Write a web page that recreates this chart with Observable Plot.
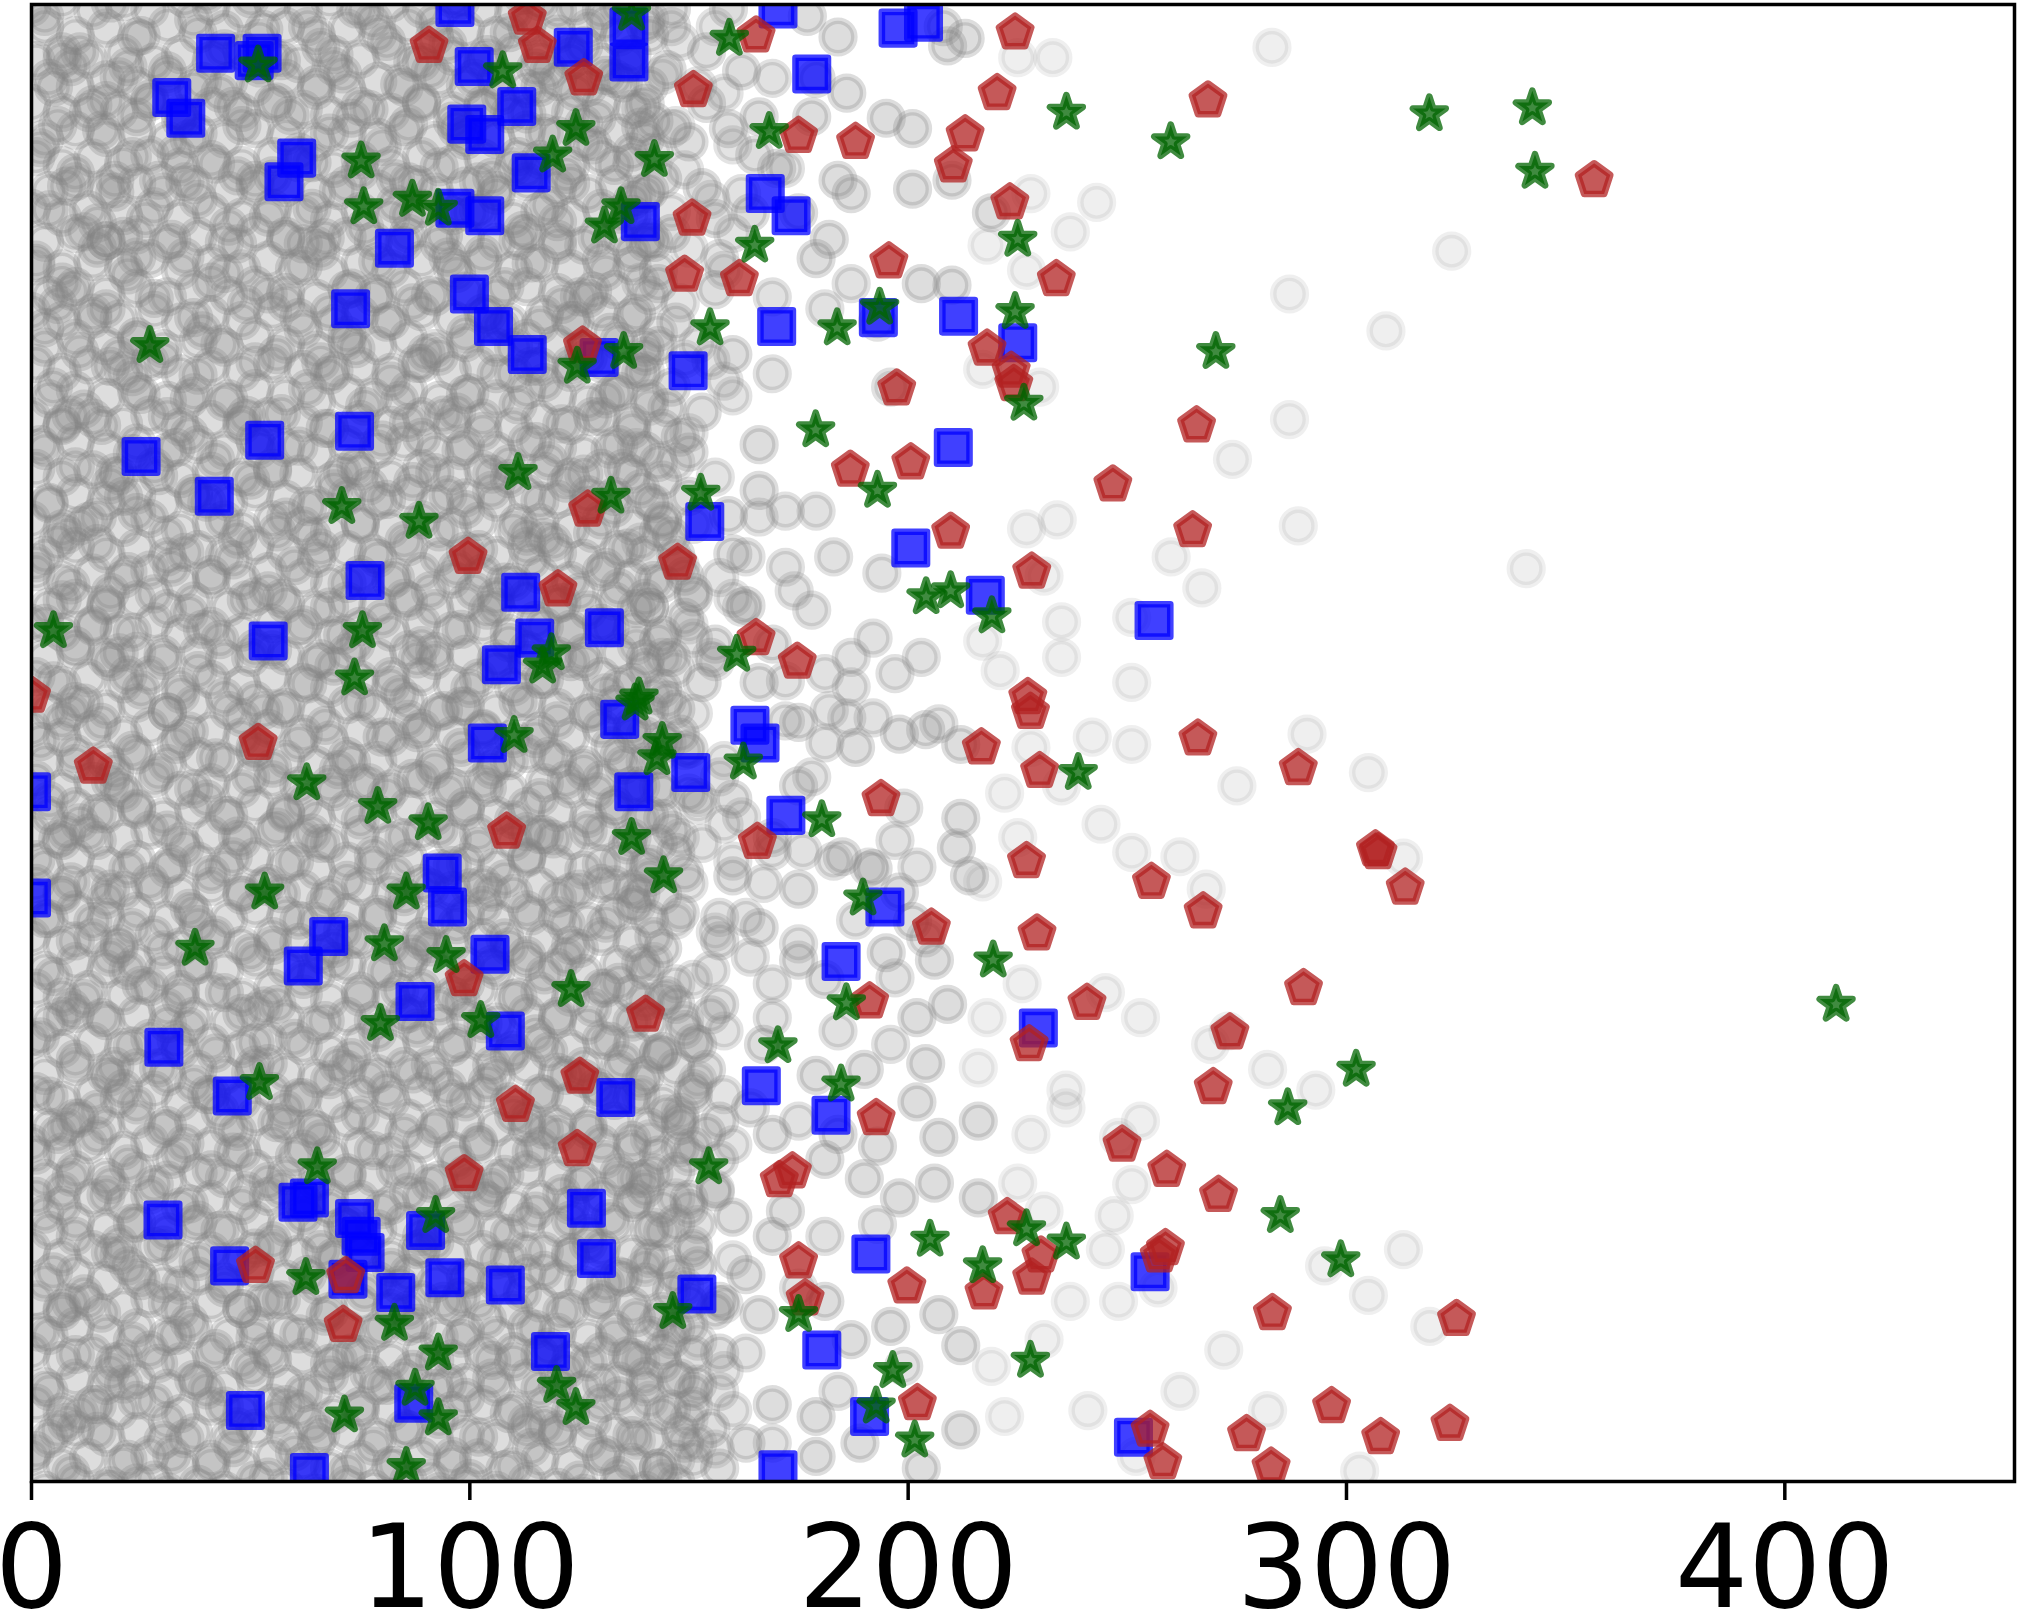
<!DOCTYPE html>
<html><head><meta charset="utf-8">
<script src="https://cdn.jsdelivr.net/npm/d3@7"></script>
<script src="https://cdn.jsdelivr.net/npm/@observablehq/plot@0.6"></script>
<style>body{margin:0;background:#fff}</style>
</head><body><div id="chart"></div>
<script>
const xTicks = [0, 100, 200, 300, 400];
const xDomain = [0, 452.4];
const yDomain = [0, 1000];

const blueSquares = [[96.6,998],[42,967],[52.6,967],[50.8,962],[32,937],[35.2,923],[60.5,896],[57.6,880],[82.8,835],[72.8,794],[101,958],[99.3,919],[103.4,912],[96.6,862],[103.4,857],[99.9,804],[105.4,782],[110.7,931],[123.6,971],[136.3,985],[136.3,961],[114,886],[113.1,763],[129.5,761],[138.9,853],[149.8,752],[153.6,650],[170.3,997],[178,953],[197.7,984],[203.5,988],[167.4,872],[173.3,857],[170,782],[193.2,788],[211.5,789],[225,771],[210.3,700],[200.6,632],[217.6,600],[256.1,583],[25,694],[41.7,667],[53.2,705],[73.7,711],[76.1,610],[54,569],[111.6,602],[114.8,571],[107.2,553],[130.7,578],[104,500],[134.2,516],[150.4,480],[137.4,467],[163.9,512],[166.2,500],[172.1,451],[0,467],[93.7,412],[94.9,389],[0,395],[67.8,369],[62,349],[104.6,357],[87.5,325],[108.1,305],[30.2,294],[45.8,261],[133.3,260],[166.5,268],[182.4,248],[184.7,352],[194.7,389],[229.7,307],[30,177],[60.8,189],[63.4,192],[73.7,178],[75.2,166],[76.1,155],[72.2,137],[83.1,128],[89.9,170],[94.3,138],[108.1,133],[126.6,185],[128.9,151],[45.2,146],[48.8,48],[118.4,88],[87.2,53],[151.8,127],[180.3,89],[191.5,154],[191.2,44],[170.3,8],[63.4,6],[255.2,142],[251.4,30]];

const redPentagons = [[113.1,991],[115.4,972],[90.7,972],[126,950],[151,942],[165.3,979],[175,911],[188,907],[213,912],[210.3,891],[224.4,981],[220.3,940],[268.4,935],[356.5,881],[223.2,866],[150.7,855],[195.6,826],[149,817],[161.5,814],[233.8,814],[218,767],[223.5,752],[224.1,743],[125.7,769],[197.4,740],[265.8,715],[186.8,685],[200.6,690],[246.7,675],[126.9,658],[99.6,626],[120.1,604],[147.4,622],[209.7,643],[264.9,644],[228.2,616],[165.3,571],[174.7,555],[0,532],[51.7,500],[14.1,484],[227.3,531],[227.9,521],[216.7,497],[266.1,503],[230,481],[289,483],[193.8,462],[108.4,440],[165.6,433],[227,420],[306.6,428],[307.2,426],[255.5,406],[313.4,402],[267.3,386],[205.3,375],[229.4,371],[98.7,340],[140.1,316],[191.2,325],[240.8,324],[290.2,334],[273.4,304],[227.6,296],[125.1,274],[110.4,255],[192.7,246],[269.6,267],[248.8,228],[259,211],[98.7,208],[124.5,225],[170.6,204],[173.6,210],[270.8,194],[222.6,179],[230.3,153],[258.7,158],[257.3,153],[175,149],[228.2,138],[199.7,132],[217.3,128],[176.5,124],[51.1,146],[71.7,139],[71.1,106],[283.1,114],[325.1,110],[202.1,53],[296.6,51],[307.8,30],[323.6,39],[255.2,35],[277.2,32],[258.1,13],[282.8,10]];

const greenStars = [[136.9,994],[159.2,977],[51.7,959],[107.5,955],[124.2,916],[118.9,898],[142.1,895],[168.3,914],[236.1,927],[259.9,907],[318.9,926],[342.4,930],[343,887],[75.2,894],[75.8,863],[86.9,868],[92.8,862],[130.7,850],[134.5,863],[165,837],[225,841],[193.5,795],[224.4,792],[183.8,781],[154.8,781],[135.1,765],[124.5,755],[270.2,765],[226.4,730],[27,769],[178.9,712],[193,671],[152.7,669],[132.2,667],[111,683],[70.8,660],[88.4,650],[204.1,599],[209.7,603],[219.1,586],[5,576],[75.5,576],[73.7,544],[118.6,561],[116.6,552],[160.9,560],[138.6,531],[137.7,527],[110.1,505],[143.9,501],[142.7,490],[162.4,487],[238.8,480],[62.8,473],[79,457],[90.5,446],[180.3,448],[136.9,436],[144.2,410],[53.2,399],[85.5,399],[189.7,395],[37.3,361],[80.5,364],[94.6,356],[219.4,353],[123.1,333],[185.9,324],[79.6,310],[102.5,312],[411.7,323],[52,270],[170.3,295],[184.7,269],[302.2,279],[286.6,253],[154.5,213],[65.2,213],[92.2,180],[205,164],[227,171],[236.1,162],[284.9,180],[217,146],[62.6,138],[298.7,150],[82.8,107],[175,113],[146.3,115],[92.8,87],[196.5,75],[227.9,82],[119.8,65],[124.2,50],[87.5,63],[92.8,43],[71.4,45],[192.7,51],[201.5,28],[85.5,10]];

// dense cloud, scattered part
const grayCloudText = `
3,992 11,968 18,1001 25,979 31,955 37,990 44,970 50,1004 57,962 63,985 69,958 74,997 81,975 87,961 92,988 98,1003 104,966 109,981 115,957 120,996 126,972 131,988 136,960 141,979 146,997 7,963 22,958 40,1007 53,983 66,971 78,989 95,973 112,1006 123,962 134,999
5,944 13,927 20,951 27,936 34,922 39,948 46,931 52,957 59,925 65,942 71,953 77,929 84,946 89,934 96,921 101,950 107,938 113,926 118,955 124,941 129,923 135,947 140,933 145,956 9,958 24,924 43,940 56,934 73,923 91,955 103,930 116,944 131,952 142,921 17,935
2,903 10,886 16,915 23,897 29,881 36,909 42,892 48,918 55,884 61,900 68,913 75,887 80,904 86,919 93,890 99,908 105,883 111,897 117,913 122,885 128,905 133,891 139,917 144,882 6,918 19,881 33,899 47,884 64,893 83,882 97,916 113,888 126,919 137,900
4,861 12,846 19,873 26,855 32,841 38,868 45,850 51,877 58,843 64,862 70,874 76,849 83,865 88,878 94,844 100,859 106,871 112,847 118,864 123,879 129,842 134,858 140,872 146,845 8,877 21,843 35,880 54,856 67,842 86,857 102,880 120,853 137,867 15,852
1,823 9,806 15,835 22,817 28,801 35,829 41,812 47,838 54,804 60,821 66,833 73,808 79,826 85,839 91,803 97,818 103,831 108,809 114,825 120,837 125,802 131,819 137,832 143,811 7,812 24,829 44,818 62,838 78,802 95,829 111,840 128,806 142,839 17,840
3,781 11,765 17,794 24,775 30,760 37,788 43,770 49,797 56,763 62,780 68,792 74,767 81,785 87,798 93,762 99,777 104,790 110,768 116,783 121,797 127,761 132,778 138,791 143,769 6,797 20,762 39,779 58,798 72,776 90,764 107,782 124,786 140,762 14,787
5,741 12,726 18,755 25,736 31,721 38,749 44,731 51,758 57,723 63,740 69,752 76,728 82,745 88,757 94,722 100,737 106,750 111,729 117,744 123,756 128,721 134,738 139,751 145,727 9,722 23,748 36,733 49,722 66,758 84,732 97,724 114,755 131,733
2,702 10,687 16,715 23,696 29,681 36,709 42,692 48,718 55,684 61,701 67,713 74,688 80,705 86,717 92,683 98,698 103,711 109,689 115,704 121,716 126,682 132,699 137,712 143,690 148,707 7,716 19,683 33,700 52,699 71,683 89,707 105,682 118,691 135,686 150,697
4,662 11,647 18,675 24,656 31,641 37,669 44,651 50,678 56,643 63,660 69,672 75,648 81,665 87,677 93,643 99,658 105,671 111,649 116,664 122,676 128,642 133,659 139,672 144,650 150,667 8,641 21,667 40,663 58,653 77,674 95,668 113,640 127,668 146,640 15,653
1,622 9,607 15,635 22,616 28,601 35,629 41,611 47,638 54,603 60,620 66,632 72,608 79,625 85,637 91,603 97,618 102,631 108,609 114,624 119,636 125,602 131,619 136,632 142,610 147,627 6,636 18,602 32,619 46,624 64,640 83,612 101,603 117,639 134,605 149,613
3,581 10,566 17,594 23,575 30,560 36,588 43,570 49,597 55,563 62,580 68,592 74,567 80,584 86,596 92,562 98,577 104,590 109,568 115,583 121,595 126,561 132,578 138,591 143,569 149,585 7,597 20,561 39,577 57,598 71,573 89,566 106,599 123,577 140,598 14,579
5,542 12,527 18,555 25,536 31,521 38,549 44,531 50,558 57,523 63,540 69,552 75,528 82,545 88,557 94,522 100,537 106,550 111,528 117,543 123,555 128,521 134,538 140,551 145,529 9,521 22,546 34,533 53,522 66,557 84,533 98,525 113,556 131,534 147,523
2,501 10,486 16,514 23,495 29,480 36,508 42,490 48,517 55,483 61,500 67,512 73,487 80,504 86,516 92,482 98,497 103,510 109,488 115,503 120,515 126,481 132,498 137,511 143,489 148,506 7,515 19,481 33,499 51,497 70,482 88,507 105,482 118,491 135,485 150,496
4,461 11,446 18,474 24,455 31,441 37,469 44,451 50,477 56,443 62,460 68,472 75,448 81,465 87,476 93,442 99,457 104,470 110,448 116,463 122,475 127,441 133,458 139,471 144,449 150,466 8,440 21,466 40,462 58,452 77,473 95,467 113,440 129,467 146,441 15,452
1,421 9,406 15,434 22,415 28,401 35,429 41,411 47,437 53,403 60,420 66,432 72,407 78,424 85,436 91,402 96,417 102,430 108,408 113,423 119,435 125,401 130,418 136,431 141,409 147,426 6,435 18,401 32,418 46,423 64,439 83,411 100,402 117,438 133,404 149,412
3,381 10,366 17,394 23,375 30,360 36,388 42,370 48,397 55,363 61,380 67,392 73,367 79,384 85,396 91,362 97,377 103,390 108,368 114,383 120,395 125,361 131,378 137,391 142,369 148,385 7,397 20,361 38,377 57,398 71,373 89,366 105,399 122,377 139,398 14,379
5,342 12,327 18,355 25,336 31,321 37,349 44,331 50,358 56,323 62,340 69,352 75,328 81,345 87,357 93,322 99,337 105,350 111,328 117,343 122,355 128,321 134,338 139,351 145,329 9,321 22,346 34,333 53,322 66,357 84,333 98,325 113,356 131,334 147,323
2,301 10,286 16,314 23,295 29,280 36,308 42,290 48,317 54,283 60,300 67,312 73,287 79,304 85,316 91,282 97,297 103,310 109,288 115,303 120,315 126,281 132,298 137,311 143,289 149,306 155,316 7,315 19,281 33,299 51,297 70,282 88,307 105,282 118,291 135,285 152,296
4,261 11,246 18,274 24,255 31,241 37,269 43,251 50,277 56,243 62,260 68,272 75,248 81,265 87,276 93,242 99,257 104,270 110,248 116,263 122,275 127,241 133,258 139,271 145,249 151,266 8,240 21,266 40,262 58,252 77,273 95,267 113,240 129,267 148,241 15,252
1,221 9,206 15,234 22,215 28,201 35,229 41,211 47,237 54,203 60,220 66,232 72,207 78,224 85,236 91,202 97,217 102,230 108,208 114,223 120,235 125,201 131,218 137,231 142,209 148,226 154,236 6,235 18,201 32,218 46,223 64,239 83,211 100,202 117,238 134,204
3,181 10,166 17,194 23,175 30,160 36,188 43,170 49,197 55,163 62,180 68,192 74,167 80,184 86,196 92,162 98,177 104,190 109,168 115,183 121,195 127,161 132,178 138,191 144,169 150,185 156,196 7,197 20,161 38,177 57,198 71,173 89,166 105,199 123,177 140,198
5,142 12,127 18,155 25,136 31,121 38,149 44,131 51,158 57,123 63,140 69,152 76,128 82,145 88,157 94,122 100,137 106,150 112,128 117,143 123,155 129,121 135,138 141,151 146,129 152,146 9,121 22,146 34,133 53,122 66,157 84,133 98,125 113,156 131,134
2,101 10,86 16,114 23,95 29,80 36,108 42,90 48,117 55,83 61,100 67,112 73,87 80,104 86,116 92,82 98,97 104,110 110,88 115,103 121,115 127,81 133,98 138,111 144,89 150,106 156,116 7,115 19,81 33,99 51,97 70,82 88,107 105,82 118,91 136,85
4,61 11,46 18,74 24,55 31,41 37,69 44,51 50,77 56,43 62,60 68,72 75,48 81,65 87,76 93,42 99,57 105,70 110,48 116,63 122,75 128,41 134,58 140,71 146,49 152,66 8,40 21,66 40,62 58,52 77,73 95,67 113,40 130,67 15,52
1,21 9,6 15,34 22,15 28,1 35,29 41,11 47,37 54,3 60,20 66,32 72,7 78,24 85,36 91,2 96,17 102,30 108,8 114,23 120,35 125,1 131,18 137,31 143,9 149,26 155,36 6,35 18,-3 32,18 46,23 64,39 83,11 100,2 117,38 134,4
`;

// dense cloud, packed part
const grayPackText = `
0,998 7,1003 14,996 21,1002 27,997 35,1004 41,999 48,995 55,1002 62,997 68,1003 76,996 82,1001 89,997 96,1004 103,998 110,995 116,1002 124,999 130,996 137,1003
3,985 10,979 17,984 24,978 31,986 38,980 44,983 52,977 58,985 65,979 72,984 79,980 86,986 92,978 99,983 106,979 113,985 120,980 127,984 134,978 140,986
1,962 7,968 13,963 21,967 28,961 34,966 41,962 48,969 55,964 61,960 69,966 75,963 82,968 89,961 96,965 103,962 110,968 116,963 123,967 130,961 137,966
4,950 10,944 17,949 24,945 31,951 37,943 45,948 51,944 58,950 65,946 72,942 79,948 85,944 93,950 99,945 106,949 113,943 120,948 127,944 133,950 141,945
0,933 7,927 14,932 20,928 27,934 34,926 41,931 48,927 55,933 62,929 68,925 75,931 82,927 89,933 96,928 103,932 109,926 117,931 123,927 130,933 137,929
3,909 10,915 17,910 24,914 31,908 38,913 44,909 51,916 58,911 65,907 72,913 79,910 85,915 92,908 99,912 106,909 113,915 120,911 126,907 134,913 140,909
1,897 7,891 14,896 21,892 27,898 34,890 41,895 48,891 55,897 61,893 69,889 75,895 82,891 89,897 96,892 103,896 110,890 116,895 123,891 130,897 137,893
4,874 10,880 17,875 24,879 30,873 37,878 45,874 51,881 58,876 65,872 72,878 79,875 86,880 92,873 99,877 106,874 113,880 120,876 127,872 133,878 141,874
0,862 7,856 13,861 21,857 28,863 34,855 41,860 48,856 55,862 62,858 68,854 75,860 82,856 89,862 96,857 102,861 110,855 116,860 123,856 130,862 137,858
3,839 10,845 17,840 24,844 31,838 38,843 44,839 51,846 58,841 65,837 72,843 78,840 86,845 93,838 99,842 106,839 113,845 120,841 126,837 134,843 140,839
1,827 7,821 14,826 21,822 27,828 34,820 41,825 48,821 54,827 62,823 68,819 75,825 82,821 89,827 96,822 103,826 110,820 116,825 123,821 130,827 137,823
4,803 10,809 17,804 24,808 31,802 37,807 45,803 51,810 58,805 65,801 72,807 79,804 85,809 92,802 99,806 106,803 113,809 120,805 127,801 133,807 141,803
0,792 7,786 14,791 20,787 28,793 34,785 41,790 48,786 55,792 61,788 69,784 75,790 82,786 89,792 96,787 103,791 109,785 117,790 123,786 130,792 137,788
3,768 10,774 17,769 24,773 30,767 38,772 44,768 51,775 58,770 65,766 72,772 79,769 86,774 92,767 99,771 106,768 113,774 120,770 126,766 134,772 140,768
1,757 7,751 13,756 21,752 27,758 34,750 41,755 48,751 55,757 62,753 68,749 75,755 82,751 89,757 96,752 102,756 110,750 116,755 123,751 130,757 137,753
4,733 10,739 17,734 24,738 31,732 37,737 45,733 51,740 58,735 65,731 72,737 78,734 86,739 93,732 99,736 106,733 113,739 120,735 127,731 133,737 141,733
0,721 7,715 14,720 21,716 27,722 34,714 41,719 48,715 54,721 62,717 68,713 75,719 82,715 89,721 96,716 103,720 110,714 116,719 123,715 130,721 137,717 144,713
3,698 10,704 17,699 24,703 31,697 38,702 44,698 51,705 58,700 65,696 72,702 79,699 85,704 92,697 99,701 106,698 113,704 120,700 126,696 134,702 140,698
1,686 7,680 14,685 20,681 28,687 34,679 41,684 48,680 55,686 61,682 69,678 75,684 82,680 89,686 96,681 103,685 109,679 117,684 123,680 130,686 137,682 144,678
4,663 10,669 17,664 24,668 30,662 37,667 45,663 51,670 58,665 65,661 72,667 79,664 86,669 92,662 99,666 106,663 113,669 120,665 127,661 133,667 141,663
0,651 7,645 13,650 21,646 27,652 34,644 41,649 48,645 55,651 62,647 68,643 75,649 82,645 89,651 96,646 102,650 110,644 116,649 123,645 130,651 137,647 143,643
3,627 10,633 17,628 24,632 31,626 38,631 44,627 51,634 58,629 65,625 72,631 78,628 86,633 93,626 99,630 106,627 113,633 120,629 126,625 134,631 140,627
1,616 7,610 14,615 21,611 27,617 34,609 41,614 48,610 54,616 62,612 68,608 75,614 82,610 89,616 96,611 103,615 110,609 116,614 123,610 130,616 137,612 144,608
4,592 10,598 17,593 24,597 31,591 37,596 45,592 51,599 58,594 65,590 72,596 79,593 85,598 92,591 99,595 106,592 113,598 120,594 127,590 133,596 141,592
0,581 7,575 14,580 20,576 28,582 34,574 41,579 48,575 55,581 61,577 69,573 75,579 82,575 89,581 96,576 103,580 109,574 117,579 123,575 130,581 137,577 144,573
3,557 10,563 17,558 24,562 30,556 38,561 44,557 51,564 58,559 65,555 72,561 79,558 86,563 92,556 99,560 106,557 113,563 120,559 126,555 134,561 140,557
1,545 7,539 13,544 21,540 27,546 34,538 41,543 48,539 55,545 62,541 68,537 75,543 82,539 89,545 96,540 102,544 110,538 116,543 123,539 130,545 137,541 144,537
4,522 10,528 17,523 24,527 31,521 37,526 45,522 51,529 58,524 65,520 72,526 78,523 86,528 93,521 99,525 106,522 113,528 120,524 127,520 133,526 141,522
0,510 7,504 14,509 21,505 27,511 34,503 41,508 48,504 54,510 62,506 68,502 75,508 82,504 89,510 96,505 103,509 110,503 116,508 123,504 130,510 137,506 144,502
3,487 10,493 17,488 24,492 31,486 38,491 44,487 51,494 58,489 65,485 72,491 79,488 85,493 92,486 99,490 106,487 113,493 120,489 126,485 134,491 140,487
1,475 7,469 14,474 20,470 28,476 34,468 41,473 48,469 55,475 61,471 69,467 75,473 82,469 89,475 96,470 103,474 109,468 117,473 123,469 130,475 137,471 144,467
4,451 10,457 17,452 24,456 30,450 37,455 45,451 51,458 58,453 65,449 72,455 79,452 86,457 92,450 99,454 106,451 113,457 120,453 127,449 133,455 141,451
0,440 7,434 13,439 21,435 27,441 34,433 41,438 48,434 55,440 62,436 68,432 75,438 82,434 89,440 96,435 102,439 110,433 116,438 123,434 130,440 137,436 143,432
3,416 10,422 17,417 24,421 31,415 38,420 44,416 51,423 58,418 65,414 72,420 78,417 86,422 93,415 99,419 106,416 113,422 120,418 126,414 134,420 140,416
1,405 7,399 14,404 21,400 27,406 34,398 41,403 48,399 54,405 62,401 68,397 75,403 82,399 89,405 96,400 103,404 110,398 116,403 123,399 130,405 137,401 144,397
4,381 10,387 17,382 24,386 31,380 37,385 45,381 51,388 58,383 65,379 72,385 79,382 85,387 92,380 99,384 106,381 113,387 120,383 127,379 133,385 141,381
0,369 7,363 14,368 20,364 28,370 34,362 41,367 48,363 55,369 61,365 69,361 75,367 82,363 89,369 96,364 103,368 109,362 117,367 123,363 130,369 137,365 144,361
3,346 10,352 17,347 24,351 30,345 38,350 44,346 51,353 58,348 65,344 72,350 79,347 86,352 92,345 99,349 106,346 113,352 120,348 126,344 134,350 140,346
1,334 7,328 13,333 21,329 27,335 34,327 41,332 48,328 55,334 62,330 68,326 75,332 82,328 89,334 96,329 102,333 110,327 116,332 123,328 130,334 137,330 144,326
4,311 10,317 17,312 24,316 31,310 37,315 45,311 51,318 58,313 65,309 72,315 78,312 86,317 93,310 99,314 106,311 113,317 120,313 127,309 133,315 141,311
0,299 7,293 14,298 21,294 27,300 34,292 41,297 48,293 54,299 62,295 68,291 75,297 82,293 89,299 96,294 103,298 110,292 116,297 123,293 130,299 137,295 144,291 151,297
3,275 10,281 17,276 24,280 31,274 38,279 44,275 51,282 58,277 65,273 72,279 79,276 85,281 92,274 99,278 106,275 113,281 120,277 126,273 134,279 140,275 147,280
1,264 7,258 14,263 20,259 28,265 34,257 41,262 48,258 55,264 61,260 69,256 75,262 82,258 89,264 96,259 103,263 109,257 117,262 123,258 130,264 137,260 144,256 151,262
4,240 10,246 17,241 24,245 30,239 37,244 45,240 51,247 58,242 65,238 72,244 79,241 86,246 92,239 99,243 106,240 113,246 120,242 127,238 133,244 141,240 148,245
0,229 7,223 13,228 21,224 27,230 34,222 41,227 48,223 55,229 62,225 68,221 75,227 82,223 89,229 96,224 102,228 110,222 116,227 123,223 130,229 137,225 143,221 151,227
3,205 10,211 17,206 24,210 31,204 38,209 44,205 51,212 58,207 65,203 72,209 78,206 86,211 93,204 99,208 106,205 113,211 120,207 126,203 134,209 140,205 147,210
1,193 7,187 14,192 21,188 27,194 34,186 41,191 48,187 54,193 62,189 68,185 75,191 82,187 89,193 96,188 103,192 110,186 116,191 123,187 130,193 137,189 144,185 150,191
4,170 10,176 17,171 24,175 31,169 37,174 45,170 51,177 58,172 65,168 72,174 79,171 85,176 92,169 99,173 106,170 113,176 120,172 127,168 133,174 141,170 147,175
0,158 7,152 14,157 20,153 28,159 34,151 41,156 48,152 55,158 61,154 69,150 75,156 82,152 89,158 96,153 103,157 109,151 117,156 123,152 130,158 137,154 144,150 151,156
3,135 10,141 17,136 24,140 30,134 38,139 44,135 51,142 58,137 65,133 72,139 79,136 86,141 92,134 99,138 106,135 113,141 120,137 126,133 134,139 140,135 147,140
1,123 7,117 13,122 21,118 27,124 34,116 41,121 48,117 55,123 62,119 68,115 75,121 82,117 89,123 96,118 102,122 110,116 116,121 123,117 130,123 137,119 144,115 150,121
4,99 10,105 17,100 24,104 31,98 37,103 45,99 51,106 58,101 65,97 72,103 78,100 86,105 93,98 99,102 106,99 113,105 120,101 127,97 133,103 141,99 147,104
0,88 7,82 14,87 21,83 27,89 34,81 41,86 48,82 54,88 62,84 68,80 75,86 82,82 89,88 96,83 103,87 110,81 116,86 123,82 130,88 137,84 144,80 151,86
3,64 10,70 17,65 24,69 31,63 38,68 44,64 51,71 58,66 65,62 72,68 79,65 85,70 92,63 99,67 106,64 113,70 120,66 126,62 134,68 140,64 147,69
1,53 7,47 14,52 20,48 28,54 34,46 41,51 48,47 55,53 61,49 69,45 75,51 82,47 89,53 96,48 103,52 109,46 117,51 123,47 130,53 137,49 144,45 151,51
4,29 10,35 17,30 24,34 30,28 37,33 45,29 51,36 58,31 65,27 72,33 79,30 86,35 92,28 99,32 106,29 113,35 120,31 127,27 133,33 141,29 148,34
0,17 7,11 13,16 21,12 27,18 34,10 41,15 48,11 55,17 62,13 68,9 75,15 82,11 89,17 96,12 102,16 110,10 116,15 123,11 130,17 137,13 143,9 151,15
3,-6 10,0 17,-5 24,-1 31,-7 38,-2 44,-6 51,1 58,-4 65,-8 72,-2 78,-5 86,0 93,-7 99,-3 106,-6 113,0 120,-4 126,-8 134,-2 140,-6 147,-1
`;

const grayEdgeText = `
141,990 148,975 156,985 144,952 152,945 139,930 147,918 158,940 142,900 149,888 160,905 138,870 146,860 155,868 141,842 150,835 160,845 139,812 148,798 158,820 143,778 152,770 140,752 149,760 158,745 141,728 150,710 160,735 138,700 147,690 156,680 142,662 151,648 139,636 148,620 157,612 141,592 150,580 160,598 138,566 147,550 156,555 142,532 151,520 140,505 149,495 158,488 143,470 152,458 139,448 148,436 158,445 141,418 150,405 160,420 138,390 147,380 156,372 142,352 151,340 140,325 149,312 158,305 143,290 152,272 139,262 148,250 158,262 141,232 150,220 160,228 138,205 147,192 156,198 142,172 151,160 160,150 140,145 149,132 158,120 143,108 152,95 139,82 148,70 158,75 141,55 150,42 160,48 138,28 147,15 156,22 144,2
`;

const grayTransText = `
144,651 166,653 172,657 179,657 163,626 172,619 183,626 194,615 151,599 162,592 174,603 178,590 151,571 155,558 144,558 192,571 181,547 187,558 187,538 197,547 203,558 172,542 182,522 186,517 192,517 172,515 181,500 207,513 178,477 157,477 145,500 152,463 162,450 153,432 169,427 176,427 183,420 191,416 202,416 199,456 197,434 167,405 163,382 157,382 164,355 175,364 169,337 155,346 147,337 197,341 204,368 188,380
146,985 169,950 146,916 172,889 162,872 157,828 169,802 181,794 187,811 155,759 169,750 196,741 193,785
169,314 184,305 196,296 157,218 175,244 152,174 181,166 193,174 157,61 169,26 184,61 199,78 152,26 163,87 175,131 146,96
`;

const grayMidText = `
177,992 184,978 209,972 213,977 208,985 186,940 195,923 201,916 178,924 184,881 201,875 210,881 219,859 203,811 210,810 179,828 182,841 175,859 187,872 170,889 165,898 159,916 166,924 179,950 162,955 154,933 154,968 159,997 150,907 153,876 156,855 164,859 143,820 156,807 147,785 160,763 146,741 153,724 166,702 166,671 159,654 160,628 151,602 163,593 156,567 169,567 146,558 153,541 166,541 175,514 188,497 198,506 204,509 212,499 212,449 211,429 214,410 198,399 201,379 192,415 185,423 175,401 175,471 169,436 160,462 160,410 166,375 157,366 181,340 175,353 195,358 206,353 209,323 202,314 204,283 202,257 190,279 179,275 167,296 157,323 154,279 157,244 164,253 169,235 184,235 193,227 207,233 216,244 216,192 206,202 198,192 190,205 181,218 172,183 169,166 160,179 163,140 157,122 166,113 181,122 187,96 196,105 207,113 212,92 212,35 203,9 189,26 179,44 169,52 163,26 157,87 151,61 179,17 157,9
`;

const grayLightText = `
225,964 233,964 283,971 218,837 227,820 237,846 243,866 228,872 324,833 309,779 287,804 274,692 287,719 289,647 341,618 267,605 260,626 251,585 251,541 234,651 227,645 235,582 231,613 235,558 221,549 217,569 230,741 217,753 222,466 228,497 235,471 242,504 251,499 291,506 305,480 275,471 313,422 268,401 262,423 251,426 244,445 225,436 217,406 218,314 226,337 245,331 253,314 273,305 282,279 293,265 269,296 236,265 236,253 216,280 228,235 253,244 248,233 251,201 247,180 245,157 225,202 231,183 237,122 248,122 257,131 305,126 313,157 303,7 282,48 262,61 252,17 241,48 222,44 272,89 295,146 319,105 231,96 219,78
`;

const parsePairs = s => s.trim().split(/\s+/).map(p => p.split(",").map(Number));
const grayCloud = parsePairs(grayCloudText);
const grayPack = parsePairs(grayPackText);
const grayEdge = parsePairs(grayEdgeText);
const grayTrans = parsePairs(grayTransText);
const grayMid = parsePairs(grayMidText);
const grayLight = parsePairs(grayLightText);

const pentagon = {
  draw(context, size) {
    const r = Math.sqrt(size / Math.PI);
    for (let i = 0; i < 5; i++) {
      const a = -Math.PI / 2 + i * 2 * Math.PI / 5;
      const px = r * Math.cos(a), py = r * Math.sin(a);
      if (i === 0) context.moveTo(px, py); else context.lineTo(px, py);
    }
    context.closePath();
  }
};

const EW = 6.6;
const gray = (a) => ({x: d => d[0], y: d => d[1], r: 16.3, fill: "#808080", stroke: "#808080",
  fillOpacity: a, strokeOpacity: a, strokeWidth: EW, clip: true});
const marker = (symbol, r, color) => ({x: d => d[0], y: d => d[1], symbol, r, fill: color, stroke: color,
  fillOpacity: 0.75, strokeOpacity: 0.75, strokeWidth: EW, strokeLinejoin: "round", clip: true});

const chart = Plot.plot({
  width: 2018, height: 1617,
  marginLeft: 31, marginRight: 4, marginTop: 4, marginBottom: 136,
  x: {domain: xDomain},
  y: {domain: yDomain, axis: null},
  style: {fontFamily: "DejaVu Sans, sans-serif", background: "white", color: "black", overflow: "visible"},
  marks: [
    Plot.dot(grayLight, gray(0.13)),
    Plot.dot(grayMid, gray(0.27)),
    Plot.dot(grayTrans, gray(0.24)),
    Plot.dot(grayEdge, gray(0.22)),
    Plot.dot(grayPack, gray(0.27)),
    Plot.dot(grayCloud, gray(0.27)),
    Plot.dot(blueSquares, marker("square", 18.3, "blue")),
    Plot.dot(redPentagons, marker(pentagon, 17, "firebrick")),
    Plot.dot(greenStars, marker("star", 10.3, "darkgreen")),
    Plot.frame({stroke: "black", strokeWidth: 3.5}),
    Plot.axisX({ticks: xTicks, tickSize: 19, tickPadding: 25, fontSize: 115, strokeWidth: 3.5, label: null})
  ]
});
document.getElementById("chart").appendChild(chart);
</script>
</body></html>
